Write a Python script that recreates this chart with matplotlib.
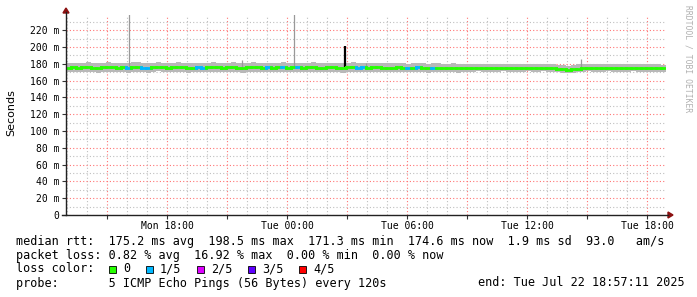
import numpy as np
import pandas as pd
import matplotlib
matplotlib.use('Agg')
import matplotlib.pyplot as plt
import matplotlib.dates as mdates
from matplotlib.collections import LineCollection
from matplotlib.lines import Line2D
from matplotlib.patches import Polygon, Rectangle

# ---------------------------------------------------------------------------
# Data (15 minute buckets, values in ms)
# ---------------------------------------------------------------------------
start = pd.Timestamp('2025-07-21 12:57:11')
end = pd.Timestamp('2025-07-22 18:57:11')

median_ms = [
    175.5, 176.0, 175.2, 175.8, 176.3, 175.4, 175.0, 175.9, 176.1, 175.6,
    175.3, 176.0, 175.1, 175.7, 176.2, 175.4, 175.0, 175.8, 176.4, 175.9,
    175.3, 175.6, 176.2, 175.8, 175.1, 175.5, 176.0, 175.4, 175.9, 176.3,
    175.7, 175.2, 175.6, 176.1, 175.5, 175.0, 175.8, 176.2, 175.6, 175.3,
    175.9, 175.4, 175.7, 176.0, 175.2, 175.6, 175.9, 175.3, 175.8, 176.1,
    175.5, 175.2, 175.7, 175.9, 175.4, 175.1, 175.6, 176.0, 175.5, 175.8,
    175.3, 175.7, 176.0, 175.4, 175.1, 175.5, 175.8, 175.2, 175.0, 175.4,
    175.7, 175.1, 174.8, 175.2, 175.5, 174.9, 175.0, 175.3, 174.8, 175.1,
    175.0, 174.7, 175.2, 175.0, 174.8, 175.1, 174.9, 175.3, 175.0, 174.7,
    175.1, 174.9, 175.2, 174.8, 175.0, 175.3, 175.1, 174.8, 174.2, 173.4,
    172.8, 173.3, 174.3, 175.0, 175.2, 174.8, 175.1, 174.9, 175.3, 175.0,
    174.7, 175.1, 174.9, 175.2, 174.8, 175.0, 174.9, 174.6, 174.8, 174.6,
]

smoke_hi = [
    180.8, 181.4, 180.6, 181.1, 181.7, 181.0, 180.3, 181.2, 181.5, 180.9,
    180.7, 181.3, 180.5, 181.6, 181.8, 180.8, 180.4, 181.2, 182.0, 181.3,
    180.7, 181.1, 181.6, 181.2, 180.5, 180.9, 181.4, 180.8, 181.3, 181.9,
    181.1, 180.6, 181.0, 181.5, 180.9, 180.4, 181.2, 181.7, 181.0, 180.7,
    181.4, 180.8, 181.1, 181.5, 180.6, 181.0, 181.3, 180.7, 181.2, 181.6,
    180.9, 180.6, 181.1, 181.4, 180.8, 180.5, 181.0, 181.8, 180.9, 181.2,
    180.6, 181.0, 181.3, 180.7, 180.4, 180.8, 181.1, 180.5, 180.2, 180.7,
    181.0, 180.3, 179.9, 180.4, 180.7, 180.0, 180.1, 180.5, 179.8, 180.2,
    179.6, 179.2, 179.8, 179.5, 179.3, 179.7, 179.4, 179.9, 179.5, 179.2,
    179.7, 179.4, 179.8, 179.3, 179.5, 180.0, 179.7, 179.3, 178.8, 178.2,
    177.7, 178.1, 179.2, 179.7, 179.9, 179.4, 179.8, 179.5, 180.0, 179.6,
    179.2, 179.7, 179.4, 179.8, 179.3, 179.6, 179.4, 179.1, 179.3, 179.0,
]

smoke_lo = [
    170.1, 170.6, 169.9, 170.4, 170.7, 170.0, 169.5, 170.3, 170.6, 170.1,
    169.8, 170.5, 169.4, 170.2, 170.5, 169.9, 169.5, 170.2, 170.8, 170.3,
    169.7, 170.1, 170.6, 170.2, 169.5, 169.9, 170.4, 169.8, 170.3, 170.7,
    170.1, 169.6, 170.0, 170.5, 169.9, 169.4, 170.2, 170.6, 170.0, 169.7,
    170.3, 169.8, 170.1, 170.4, 169.6, 170.0, 170.3, 169.7, 170.2, 170.5,
    169.9, 169.6, 170.1, 170.3, 169.8, 169.5, 170.0, 170.4, 169.9, 170.2,
    169.9, 170.3, 170.6, 170.0, 169.7, 170.1, 170.4, 169.8, 169.6, 170.0,
    170.3, 169.7, 169.5, 169.9, 170.2, 169.6, 169.7, 170.0, 169.5, 169.8,
    170.6, 170.3, 170.8, 170.6, 170.4, 170.7, 170.5, 170.9, 170.6, 170.3,
    170.7, 170.5, 170.8, 170.4, 170.6, 170.9, 170.7, 170.4, 169.9, 169.2,
    168.9, 169.2, 170.0, 170.6, 170.8, 170.4, 170.7, 170.5, 170.9, 170.6,
    170.3, 170.7, 170.5, 170.8, 170.4, 170.6, 170.5, 170.2, 170.4, 170.2,
]

# lost pings per bucket (out of 5)
loss = [
    0, 0, 0, 0, 0, 0, 0, 0, 0, 0, 0, 0, 1, 0, 0, 1, 1, 0, 0, 0,
    0, 0, 0, 0, 0, 0, 1, 1, 0, 0, 0, 0, 0, 0, 0, 0, 0, 0, 0, 0,
    1, 0, 0, 1, 0, 0, 1, 0, 0, 0, 0, 0, 0, 0, 0, 0, 0, 0, 1, 1,
    0, 0, 0, 0, 0, 0, 0, 0, 1, 0, 1, 0, 0, 1, 0, 0, 0, 0, 0, 0,
    0, 0, 0, 0, 0, 0, 0, 0, 0, 0, 0, 0, 0, 0, 0, 0, 0, 0, 0, 0,
    0, 0, 0, 0, 0, 0, 0, 0, 0, 0, 0, 0, 0, 0, 0, 0, 0, 0, 0, 0,
]

# single-ping spikes
spike_times = ['2025-07-21 16:06', '2025-07-21 21:45', '2025-07-22 00:21',
               '2025-07-22 03:56', '2025-07-22 14:42']
spike_tops = [260.0, 184.0, 260.0, 180.7, 185.5]
black_spike_time = '2025-07-22 02:54'
black_spike_range = [176.0, 201.0]

loss_labels = ['0', '1/5', '2/5', '3/5', '4/5']
loss_colors = ['#26ff00', '#00b8ff', '#dd00ff', '#5e00ff', '#ff0000']

# ---------------------------------------------------------------------------
W, H = 697, 297
fig = plt.figure(figsize=(W / 100, H / 100), dpi=100)
fig.patch.set_facecolor('white')

x0, x1, ytop, ybot = 66, 666, 15, 215
ax = fig.add_axes([x0 / W, 1 - ybot / H, (x1 - x0) / W, (ybot - ytop) / H])
ax.set_facecolor('white')

times = pd.date_range(start, periods=len(median_ms) + 1, freq='15min')
tnum = mdates.date2num(times.to_pydatetime())

# grid
major_c = (1.0, 0.45, 0.45, 0.55)
minor_c = (0.75, 0.75, 0.75, 0.7)
ax.set_xlim(mdates.date2num(start.to_pydatetime()), mdates.date2num(end.to_pydatetime()))
ax.set_ylim(0, 238)
ax.xaxis.set_major_locator(mdates.HourLocator(byhour=range(0, 24, 3)))
ax.xaxis.set_minor_locator(mdates.HourLocator())
ax.yaxis.set_major_locator(plt.MultipleLocator(20))
ax.yaxis.set_minor_locator(plt.MultipleLocator(10))
ax.grid(which='major', color=major_c, linestyle=(0, (1, 2)), linewidth=0.8)
ax.grid(which='minor', color=minor_c, linestyle=(0, (1, 2)), linewidth=0.8)
ax.set_axisbelow(True)


def xfmt(v, pos):
    d = mdates.num2date(v)
    return d.strftime('%a %H:%M') if d.hour % 6 == 0 else ''


ax.xaxis.set_major_formatter(plt.FuncFormatter(xfmt))
ax.yaxis.set_major_formatter(plt.FuncFormatter(
    lambda v, p: '0' if v == 0 else f'{int(v)} m'))
for lab in ax.get_xticklabels() + ax.get_yticklabels():
    lab.set_fontfamily('DejaVu Sans Mono')
ax.tick_params(axis='both', which='major', labelsize=7, length=3, width=0.8,
               color='#333333', pad=2)
ax.tick_params(axis='both', which='minor', length=0)
ax.tick_params(axis='x', pad=1)
for s in ax.spines.values():
    s.set_visible(False)

# smoke
hi = smoke_hi + [smoke_hi[-1]]
lo = smoke_lo + [smoke_lo[-1]]
ax.fill_between(tnum, lo, hi, step='post', color='#b8b8b8', linewidth=0, zorder=2)

# spikes
for t, top in zip(spike_times, spike_tops):
    tn = mdates.date2num(pd.Timestamp(t).to_pydatetime())
    ax.vlines(tn, 176, top, color='#999999', linewidth=0.9, zorder=2)
tb = mdates.date2num(pd.Timestamp(black_spike_time).to_pydatetime())
ax.vlines(tb, black_spike_range[0], black_spike_range[1], color='black',
          linewidth=1.6, zorder=3)

# median line coloured by loss
segs, cols = [], []
for i, m in enumerate(median_ms):
    segs.append([(tnum[i], m), (tnum[i + 1], m)])
    cols.append(loss_colors[loss[i]])
    if i + 1 < len(median_ms):
        segs.append([(tnum[i + 1], m), (tnum[i + 1], median_ms[i + 1])])
        cols.append(loss_colors[loss[i + 1]])
ax.add_collection(LineCollection(segs, colors=cols, linewidths=2.0,
                                 capstyle='projecting', zorder=4))

# axes with arrows
axis_c = '#222222'
arrow_c = '#8b1010'
fig.add_artist(Line2D([x0 / W, x0 / W], [1 - ybot / H, 1 - 12 / H],
                      color=axis_c, linewidth=1))
fig.add_artist(Line2D([62 / W, 668 / W], [1 - ybot / H, 1 - ybot / H],
                      color=axis_c, linewidth=1))
fig.add_artist(Polygon([[(x0 - 3) / W, 1 - 13 / H], [(x0 + 3) / W, 1 - 13 / H],
                        [x0 / W, 1 - 8 / H]], closed=True, color=arrow_c))
fig.add_artist(Polygon([[668 / W, 1 - (ybot - 3) / H], [668 / W, 1 - (ybot + 3) / H],
                        [673 / W, 1 - ybot / H]], closed=True, color=arrow_c))

# labels
fig.text(11 / W, 1 - 113 / H, 'Seconds', rotation=90, ha='center', va='center',
         fontsize=8, family='DejaVu Sans')
fig.text(688 / W, 1 - 59 / H, 'RRDTOOL / TOBI OETIKER', rotation=270,
         ha='center', va='center', fontsize=5.8, family='DejaVu Sans Mono',
         color='#b0b0b0')

mono = dict(fontsize=8.5, family='DejaVu Sans Mono', va='center', ha='left')
fig.text(16 / W, 1 - 241 / H,
         'median rtt:  175.2 ms avg  198.5 ms max  171.3 ms min  '
         '174.6 ms now  1.9 ms sd  93.0   am/s', **mono)
fig.text(16 / W, 1 - 255 / H,
         'packet loss: 0.82 % avg  16.92 % max  0.00 % min  0.00 % now', **mono)
fig.text(16 / W, 1 - 269 / H, 'loss color:', **mono)
box_x = [109, 146, 197, 248, 299]
for bx, lab, c in zip(box_x, loss_labels, loss_colors):
    fig.add_artist(Rectangle((bx / W, 1 - 272.5 / H), 7 / W, 7 / H,
                             facecolor=c, edgecolor='black', linewidth=0.6))
    fig.text((bx + 14) / W, 1 - 269 / H, lab, **mono)
fig.text(16 / W, 1 - 283 / H,
         'probe:       5 ICMP Echo Pings (56 Bytes) every 120s', **mono)
fig.text(478 / W, 1 - 283 / H, 'end: Tue Jul 22 18:57:11 2025', **mono)

fig.savefig('out.png', dpi=100, facecolor='white')
